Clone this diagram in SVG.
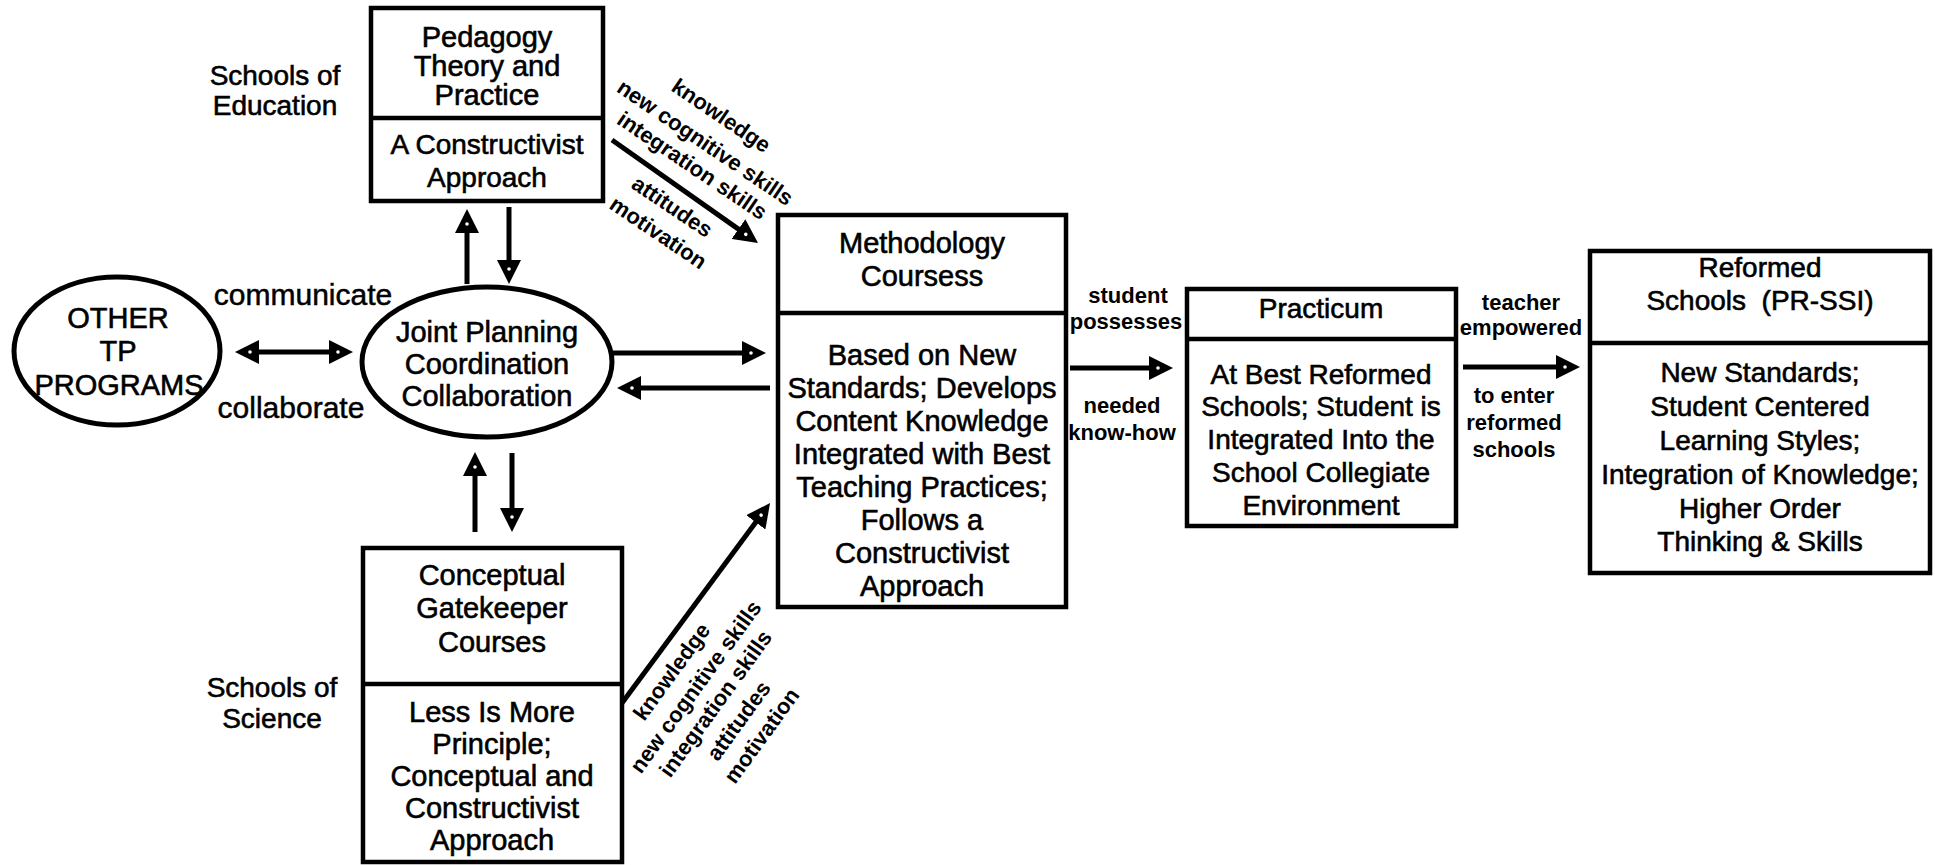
<svg xmlns="http://www.w3.org/2000/svg" width="1935" height="865" viewBox="0 0 1935 865">
<style>
.box{fill:#fff;stroke:#000;stroke-width:4.5}
.div{stroke:#000;stroke-width:4.5}
.ell{fill:#fff;stroke:#000;stroke-width:5}
text{font-family:"Liberation Sans",Arial,sans-serif;fill:#000;text-anchor:middle}
.t{font-size:29px;stroke:#000;stroke-width:0.6}
.p{font-size:28px;stroke:#000;stroke-width:0.6}
.r{font-size:28px;stroke:#000;stroke-width:0.6}
.e{font-size:30px;stroke:#000;stroke-width:0.5}
.s{font-size:22px;font-weight:bold}
.conn line{stroke:#000;stroke-width:5;fill:none}
</style>
<defs>
<marker id="ah" viewBox="0 0 24 24" refX="10" refY="12" markerWidth="24" markerHeight="24" markerUnits="userSpaceOnUse" orient="auto-start-reverse">
<path d="M0,0 L24,12 L0,24 Z" fill="#000"/>
<circle cx="9" cy="12" r="1.8" fill="#fff"/>
</marker>
</defs>
<rect width="1935" height="865" fill="#fff"/>

<g id="label-education">
<text class="r" x="275" y="85">Schools of</text>
<text class="r" x="275" y="115">Education</text>
</g>
<g id="label-science">
<text class="r" x="272" y="697">Schools of</text>
<text class="r" x="272" y="728">Science</text>
</g>

<g id="pedagogy">
<rect class="box" x="371" y="8" width="232" height="193"/>
<line class="div" x1="371" y1="118" x2="603" y2="118"/>
<text class="t" x="487" y="47">Pedagogy</text>
<text class="t" x="487" y="76">Theory and</text>
<text class="t" x="487" y="105">Practice</text>
<text class="p" x="487" y="154">A Constructivist</text>
<text class="p" x="487" y="187">Approach</text>
</g>

<g id="other-tp">
<ellipse class="ell" cx="117" cy="351" rx="103" ry="74"/>
<text class="t" x="118" y="328">OTHER</text>
<text class="t" x="118" y="361">TP</text>
<text class="t" x="119" y="395">PROGRAMS</text>
</g>

<g id="joint">
<ellipse class="ell" cx="487" cy="362" rx="125" ry="75"/>
<text class="t" x="487" y="342">Joint Planning</text>
<text class="t" x="487" y="374">Coordination</text>
<text class="t" x="487" y="406">Collaboration</text>
</g>

<g id="conceptual">
<rect class="box" x="363" y="548" width="259" height="314"/>
<line class="div" x1="363" y1="684" x2="622" y2="684"/>
<text class="t" x="492" y="585">Conceptual</text>
<text class="t" x="492" y="618">Gatekeeper</text>
<text class="t" x="492" y="652">Courses</text>
<text class="t" x="492" y="722">Less Is More</text>
<text class="t" x="492" y="754">Principle;</text>
<text class="t" x="492" y="786">Conceptual and</text>
<text class="t" x="492" y="818">Constructivist</text>
<text class="t" x="492" y="850">Approach</text>
</g>

<g id="methodology">
<rect class="box" x="778" y="215" width="288" height="392"/>
<line class="div" x1="778" y1="313" x2="1066" y2="313"/>
<text class="t" x="922" y="253">Methodology</text>
<text class="t" x="922" y="286">Coursess</text>
<text class="t" x="922" y="365">Based on New</text>
<text class="t" x="922" y="398">Standards; Develops</text>
<text class="t" x="922" y="431">Content Knowledge</text>
<text class="t" x="922" y="464">Integrated with Best</text>
<text class="t" x="922" y="497">Teaching Practices;</text>
<text class="t" x="922" y="530">Follows a</text>
<text class="t" x="922" y="563">Constructivist</text>
<text class="t" x="922" y="596">Approach</text>
</g>

<g id="practicum">
<rect class="box" x="1187" y="289" width="269" height="237"/>
<line class="div" x1="1187" y1="339" x2="1456" y2="339"/>
<text class="r" x="1321" y="318">Practicum</text>
<text class="r" x="1321" y="384">At Best Reformed</text>
<text class="r" x="1321" y="416">Schools; Student is</text>
<text class="r" x="1321" y="449">Integrated Into the</text>
<text class="r" x="1321" y="482">School Collegiate</text>
<text class="r" x="1321" y="515">Environment</text>
</g>

<g id="reformed">
<rect class="box" x="1590" y="251" width="340" height="322"/>
<line class="div" x1="1590" y1="343" x2="1930" y2="343"/>
<text class="r" x="1760" y="277">Reformed</text>
<text class="r" x="1760" y="310" xml:space="preserve">Schools  (PR-SSI)</text>
<text class="r" x="1760" y="382">New Standards;</text>
<text class="r" x="1760" y="416">Student Centered</text>
<text class="r" x="1760" y="450">Learning Styles;</text>
<text class="r" x="1760" y="484">Integration of Knowledge;</text>
<text class="r" x="1760" y="518">Higher Order</text>
<text class="r" x="1760" y="551">Thinking &amp; Skills</text>
</g>

<g id="connectors" class="conn">
<line x1="467" y1="284" x2="467" y2="223" marker-end="url(#ah)"/>
<line x1="509" y1="207" x2="509" y2="270" marker-end="url(#ah)"/>
<line x1="249" y1="352" x2="339" y2="352" marker-start="url(#ah)" marker-end="url(#ah)"/>
<line x1="613" y1="353" x2="752" y2="353" marker-end="url(#ah)"/>
<line x1="770" y1="388" x2="631" y2="388" marker-end="url(#ah)"/>
<line x1="475" y1="532" x2="475" y2="466" marker-end="url(#ah)"/>
<line x1="512" y1="453" x2="512" y2="518" marker-end="url(#ah)"/>
<line x1="612" y1="140" x2="746.6" y2="234.9" marker-end="url(#ah)"/>
<line x1="622" y1="703" x2="761.7" y2="514.3" marker-end="url(#ah)"/>
<line x1="1070" y1="368" x2="1159" y2="368" marker-end="url(#ah)"/>
<line x1="1463" y1="367" x2="1566" y2="367" marker-end="url(#ah)"/>
</g>

<g id="edge-labels">
<text class="e" x="303" y="305">communicate</text>
<text class="e" x="291" y="418">collaborate</text>
<text class="s" x="1128" y="303">student</text>
<text class="s" x="1126" y="329">possesses</text>
<text class="s" x="1122" y="413">needed</text>
<text class="s" x="1122" y="440">know-how</text>
<text class="s" x="1521" y="310">teacher</text>
<text class="s" x="1521" y="335">empowered</text>
<text class="s" x="1514" y="403">to enter</text>
<text class="s" x="1514" y="430">reformed</text>
<text class="s" x="1514" y="457">schools</text>
<text class="s" transform="translate(721,116) rotate(34)" y="7">knowledge</text>
<text class="s" transform="translate(705,143) rotate(34)" y="7">new cognitive skills</text>
<text class="s" transform="translate(692,166) rotate(34)" y="7">integration skills</text>
<text class="s" transform="translate(672,207) rotate(34)" y="7">attitudes</text>
<text class="s" transform="translate(658,233) rotate(34)" y="7">motivation</text>
<text class="s" transform="translate(672,672) rotate(-54)" y="7">knowledge</text>
<text class="s" transform="translate(696,687) rotate(-54)" y="7">new cognitive skills</text>
<text class="s" transform="translate(716,704) rotate(-54)" y="7">integration skills</text>
<text class="s" transform="translate(739,721) rotate(-54)" y="7">attitudes</text>
<text class="s" transform="translate(762,736) rotate(-54)" y="7">motivation</text>
</g>
</svg>
